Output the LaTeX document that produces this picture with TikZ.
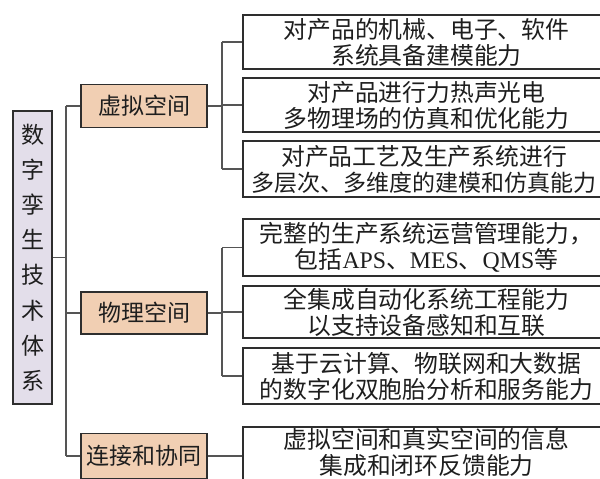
\documentclass[tikz,border=0pt]{standalone}
\usepackage{fontspec}
\setmainfont{Liberation Serif}
\newfontfamily\cjk{Noto Sans CJK SC}
\definecolor{peach}{HTML}{F1CFB3}
\definecolor{lav}{HTML}{E3DEEA}
\definecolor{linegray}{HTML}{555555}
\definecolor{edge}{HTML}{2E2E2E}
\definecolor{txt}{HTML}{1E1E1E}
\tikzset{
  rbox/.style={draw=edge, line width=1.4pt, fill=white, minimum width=367pt, inner sep=0pt,
    align=center, text=txt, font=\cjk\fontsize{23.8}{26}\selectfont},
  rtext/.style={inner sep=0pt, align=center, text=txt, font=\cjk\fontsize{23.8}{26}\selectfont},
  mbox/.style={draw=edge, line width=1.4pt, fill=peach, minimum width=126pt, inner sep=0pt,
    text=txt, font=\cjk\fontsize{23}{26}\selectfont},
  rootbox/.style={draw=edge, line width=1.4pt, fill=lav, minimum width=39pt, minimum height=293pt,
    inner sep=0pt, align=center, text=txt, font=\cjk\fontsize{23}{35.2}\selectfont},
  conn/.style={draw=linegray, line width=1.3pt}
}
\begin{document}
\begin{tikzpicture}[x=1pt,y=-1pt]
\useasboundingbox (0,0) rectangle (600,479);
\clip (0,0) rectangle (600,479);
\fill[white] (0,0) rectangle (600,479);

\node[rootbox] (root) at (32.5,257.5) {数\\字\\孪\\生\\技\\术\\体\\系};

\node[mbox, minimum height=43pt] (m1) at (144,106) {虚拟空间};
\node[mbox, minimum height=42pt] (m2) at (144,313) {物理空间};
\node[mbox, minimum height=45pt] (m3) at (144,456) {连接和协同};

\node[rbox, minimum height=54pt] (r1) at (426.5,42) {对产品的机械、电子、软件\\系统具备建模能力};
\node[rbox, minimum height=54pt] (r2) at (426.5,105) {对产品进行力热声光电\\多物理场的仿真和优化能力};
\node[rbox, minimum height=56pt] (r3) at (426.5,169) {};
\node[rtext] (r3t) at (424,169) {对产品工艺及生产系统进行\\{\fontsize{23}{26}\selectfont 多层次、多维度的建模和仿真能力}};
\node[rbox, minimum height=57pt] (r4) at (426.5,247.5) {完整的生产系统运营管理能力，\\包括{\rmfamily APS}、{\rmfamily MES}、{\rmfamily QMS}等};
\node[rbox, minimum height=52pt] (r5) at (426.5,312) {全集成自动化系统工程能力\\以支持设备感知和互联};
\node[rbox, minimum height=56pt] (r6) at (426.5,376) {基于云计算、物联网和大数据\\的数字化双胞胎分析和服务能力};
\node[rbox, minimum height=58pt] (r7) at (426.5,456) {};
\node[rtext] (r7t) at (426.5,452) {虚拟空间和真实空间的信息\\集成和闭环反馈能力};

\coordinate (ta) at (66,106);
\coordinate (tb) at (66,456);
\coordinate (bx) at (222,0);

% trunk
\draw[conn] (ta) -- (tb);
\draw[conn] (root.east) -- (root.east -| ta);
\draw[conn] (ta |- m1.west) -- (m1.west);
\draw[conn] (ta |- m2.west) -- (m2.west);
\draw[conn] (ta |- m3.west) -- (m3.west);

% group 1
\draw[conn] (m1.east) -- (bx |- m1.east);
\draw[conn] (bx |- r1.west) -- (bx |- r3.west);
\draw[conn] (bx |- r1.west) -- (r1.west);
\draw[conn] (bx |- r2.west) -- (r2.west);
\draw[conn] (bx |- r3.west) -- (r3.west);

% group 2
\draw[conn] (m2.east) -- (bx |- m2.east);
\draw[conn] (bx |- r4.west) -- (bx |- r6.west);
\draw[conn] (bx |- r4.west) -- (r4.west);
\draw[conn] (bx |- r5.west) -- (r5.west);
\draw[conn] (bx |- r6.west) -- (r6.west);

% group 3
\draw[conn] (m3.east) -- (r7.west);
\end{tikzpicture}
\end{document}
